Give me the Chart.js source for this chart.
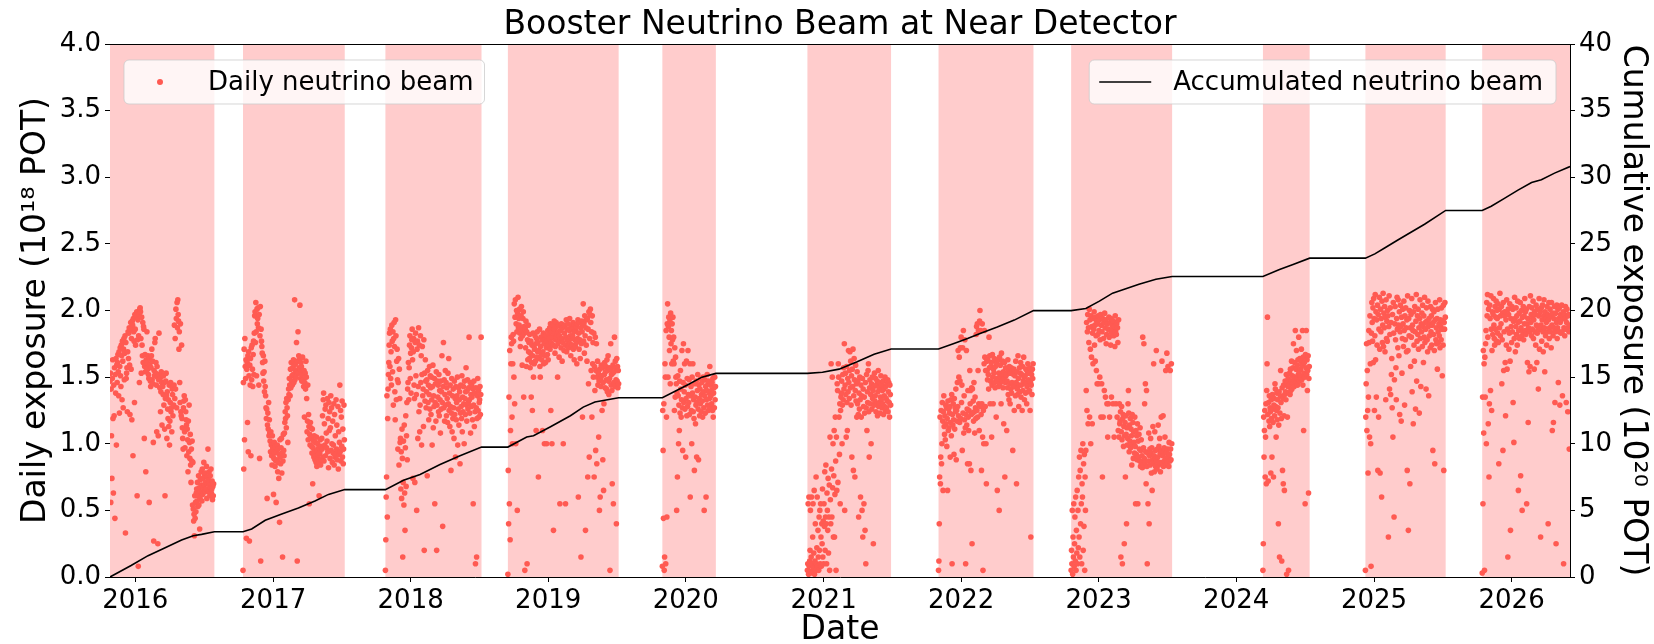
<!DOCTYPE html>
<html>
<head>
<meta charset="utf-8">
<script src="https://cdn.jsdelivr.net/npm/chart.js"></script>
<style>html,body{margin:0;background:#fff}canvas{display:block}</style>
</head>
<body>
<canvas id="bnb" width="1654" height="644"></canvas>
<script>
// beam-on periods, each shaded
const runStart = ['2015-10-26','2016-10-13','2017-10-26','2018-09-16','2019-10-31','2020-11-19','2021-11-02','2022-10-20','2024-03-12','2024-12-09','2025-10-15'];
const runEnd   = ['2016-07-29','2017-07-10','2018-07-08','2019-07-07','2020-03-21','2021-06-29','2022-07-12','2023-07-15','2024-07-14','2025-07-10','2026-06-05'];

// daily POT (1e18), one value per day starting at runStart
const pot2016 = [
1.47,1.53,0.56,1.41,1.06,0.74,1.49,1.63,1.19,0.63, 1.44,1.21,1.57,0.44,1.52,1.38,1.64,0.99,1.59,1.46,
1.61,1.67,1.54,1.36,1.69,1.23,1.58,1.72,1.51,1.43, 1.74,1.66,1.33,1.77,1.62,1.27,1.71,1.79,1.48,1.68,
1.81,0.33,1.76,1.49,1.53,1.57,1.24,1.69,1.84,1.64, 1.83,1.87,1.59,1.22,1.86,1.91,1.56,1.79,1.18,1.92,
1.89,0.91,1.94,1.84,1.77,1.31,1.97,1.86,1.74,1.95, 1.96,1.99,0.61,1.78,1.93,0.08,1.81,1.97,1.46,2.01,
2.02,1.99,1.79,1.53,1.95,1.74,1.66,1.91,1.61,1.88, 1.86,1.04,1.58,1.67,1.54,0.79,1.63,1.57,1.84,1.61,
1.56,1.66,1.52,1.49,0.56,1.64,1.59,1.47,1.43,1.57, 1.66,1.71,1.48,1.62,1.45,1.01,0.27,1.55,1.51,1.76,
1.79,1.53,1.61,1.44,1.09,1.58,1.5,0.25,1.06,1.48, 1.83,1.52,1.42,1.49,1.24,1.39,1.54,1.46,1.14,1.51,
1.43,1.37,1.51,1.29,1.46,1.11,0.61,1.34,1.47,1.53, 1.36,1.04,1.39,1.26,1.19,1.33,1.13,1.44,0.99,1.17,
1.31,1.46,1.24,1.27,1.09,1.41,1.37,1.21,1.43,1.29, 1.44,1.89,1.34,1.79,1.41,2.01,1.94,1.27,2.06,1.87,
2.08,1.97,1.92,1.71,1.84,1.46,1.31,1.9,1.24,1.21, 1.74,1.19,1.12,1.04,0.96,1.27,1.32,1.36,1.09,0.97,
1.33,1.24,1.18,1.14,0.91,1.11,1.03,0.79,1.17,0.94, 1.29,1.01,0.89,1.07,0.84,0.71,0.96,0.87,1.02,0.54,
0.86,0.51,0.42,0.47,0.31,0.61,0.44,0.56,0.49,0.63, 0.66,0.57,0.71,0.53,0.61,0.76,0.54,0.67,0.36,0.59,
0.73,0.64,0.79,0.69,0.57,0.81,0.62,0.74,0.67,0.86, 0.69,0.77,0.64,0.78,0.71,0.66,0.83,0.59,0.75,0.7,
0.96,0.73,0.64,0.79,0.69,0.61,0.76,0.67,0.81,0.63, 0.66,0.72,0.58,0.68,0.61,0.7];
const pot2017 = [
0.05,1.46,0.81,1.71,1.03,1.79,1.58,1.49,1.63,0.29, 1.56,1.61,1.16,1.66,0.94,1.69,1.51,0.27,1.59,1.44,
1.64,0.91,1.72,1.48,1.74,1.56,1.43,1.67,1.77,1.52, 1.83,1.96,1.99,1.76,2.06,1.84,1.51,2.01,1.9,1.94,
2.02,1.87,1.44,1.97,0.89,1.81,2.03,0.12,1.86,1.77, 1.73,1.68,1.61,1.53,1.66,1.47,1.54,1.39,1.62,1.43,
1.36,1.27,1.19,1.26,0.59,1.14,1.23,1.11,1.31,1.06, 1.18,1.08,1.02,0.94,1.09,0.99,0.91,0.84,1.06,0.97,
0.96,0.62,0.89,1.01,0.93,0.83,0.98,0.87,0.56,0.94, 0.88,0.99,0.79,0.96,0.86,0.74,0.92,0.41,1.03,0.9,
0.85,0.97,1.04,0.78,0.93,0.15,0.87,1.07,0.95,0.91, 1.08,1.16,1.24,1.19,1.31,1.12,1.34,1.27,1.21,1.01,
1.33,1.41,1.37,1.49,1.44,1.36,1.56,1.42,1.61,1.47, 1.51,1.44,1.57,1.52,1.63,1.46,1.59,2.08,1.48,1.55,
1.6,1.5,1.76,1.54,0.12,1.62,1.84,1.53,1.66,1.57, 1.63,2.04,1.56,1.49,1.61,1.58,1.47,1.52,1.65,1.55,
1.48,1.43,1.55,1.2,1.46,1.53,1.41,1.62,1.5,1.34, 1.09,1.17,1.44,1.03,1.22,1.13,0.55,1.07,0.99,1.16,
1.12,1.04,0.98,0.93,1.11,0.7,0.97,1.02,0.9,1.06, 0.94,0.88,1.01,0.91,0.86,1.05,0.83,0.95,1.0,0.89,
0.92,0.97,0.61,0.86,0.93,1.03,0.84,0.98,0.88,1.04, 0.96,1.21,0.9,1.33,1.38,0.87,1.15,0.99,1.26,0.91,
1.29,1.08,0.97,1.02,1.34,0.94,1.19,0.82,1.31,1.1, 1.24,0.89,1.12,1.36,0.95,1.27,1.0,0.86,1.17,0.93,
0.99,1.3,0.84,1.22,0.9,1.06,0.92,1.33,0.96,1.14, 0.88,0.95,1.28,0.81,1.09,0.92,1.01,1.44,0.94,1.25,
0.87,1.2,0.98,1.32,0.9,1.11,0.85,0.96,1.29,1.03];
const pot2018 = [
0.05,0.28,0.6,0.75,1.36,0.45,1.19,1.41,1.52,1.61, 1.74,1.83,1.58,1.86,1.49,1.69,1.44,1.89,1.77,1.54,
1.84,1.29,1.79,1.91,1.73,1.39,1.18,1.93,1.81,1.33, 1.62,1.71,1.48,0.96,1.46,1.64,0.84,1.56,1.34,1.01,
1.04,0.66,0.94,0.59,1.11,0.89,0.15,0.71,1.02,0.54, 1.14,0.63,0.35,0.97,1.21,0.68,1.06,1.31,0.88,1.41,
1.46,1.61,1.33,1.57,1.74,1.81,1.49,1.68,1.38,1.72, 1.78,1.86,1.63,0.74,1.69,1.79,1.44,1.34,0.71,1.76,
1.83,1.51,1.37,0.5,1.71,1.77,1.04,1.43,1.87,1.24, 1.74,1.09,1.29,1.81,1.46,1.66,0.99,1.52,1.73,1.36,
1.41,1.13,1.78,0.2,1.53,1.32,1.63,1.47,1.27,1.39, 1.48,0.76,1.55,1.31,1.44,1.18,1.37,1.58,1.26,1.51,
1.42,1.22,1.5,1.33,0.99,1.43,1.59,1.12,1.36,1.28, 1.49,0.55,1.31,1.45,1.17,1.54,0.2,1.29,1.47,1.35,
1.44,1.24,1.52,1.21,1.4,1.33,1.08,1.47,1.26,1.39, 1.66,1.31,0.38,1.43,1.76,1.27,1.48,1.17,1.37,1.55,
1.29,1.46,1.21,1.42,1.34,1.16,1.53,1.3,1.64,1.25, 1.38,1.13,1.44,1.28,0.8,1.23,1.49,1.09,1.36,1.19,
1.41,1.27,1.04,1.47,1.22,1.34,0.9,1.43,1.18,1.31, 1.36,1.5,0.99,1.26,1.42,1.14,1.33,1.39,0.85,1.23,
1.44,1.28,1.19,1.51,1.09,1.35,1.24,1.43,1.3,1.0, 1.47,1.34,1.22,1.39,1.57,1.29,1.17,1.4,1.48,1.26,
1.31,1.42,1.8,1.33,1.23,1.46,1.08,1.37,1.28,1.44, 1.35,1.18,1.41,0.55,1.29,1.47,1.13,1.38,1.24,0.1,
1.42,1.27,0.15,1.19,1.36,1.49,1.25,1.4,1.2,1.31, 1.33,1.43,1.22,1.37,1.8];
const pot2019 = [
0.02,0.8,0.4,1.35,0.55,1.7,0.28,1.1,1.6,1.8, 1.75,1.2,1.0,1.6,1.82,1.77,1.5,2.05,1.3,1.95,
2.08,1.0,1.9,2.0,1.84,0.5,1.98,2.1,1.87,1.94, 1.89,2.01,1.83,1.73,1.79,1.96,2.03,1.86,1.59,1.81,
1.94,1.99,1.35,1.88,1.83,0.05,1.86,1.72,1.92,1.58, 1.84,0.1,1.78,1.63,1.89,1.69,1.76,1.64,1.82,1.57,
1.68,1.77,1.35,1.61,1.74,1.25,1.66,1.83,1.5,1.73, 1.6,1.71,1.81,1.62,1.75,1.1,1.79,1.65,1.84,1.69,
1.76,0.75,1.7,1.64,1.86,1.58,1.5,1.73,1.8,1.67, 1.63,1.78,1.1,1.69,1.83,1.6,1.75,1.0,1.79,1.66,
1.61,1.81,1.72,1.0,1.77,1.67,1.85,1.63,1.74,1.82, 1.79,1.87,1.71,1.9,1.25,1.76,1.84,1.0,1.8,1.89,
1.74,0.35,1.83,1.92,1.86,1.68,1.73,1.78,1.91,1.8, 1.88,1.82,1.5,1.75,1.84,1.89,1.65,1.81,0.55,1.77,
1.85,1.72,1.9,1.79,1.62,1.87,1.76,1.0,1.88,1.7, 1.83,1.89,1.74,0.55,1.8,1.93,1.69,1.78,1.86,1.73,
1.9,1.77,1.72,1.85,1.94,1.75,1.81,1.66,1.88,1.79, 1.74,1.86,1.81,1.91,1.71,1.84,1.63,1.89,1.78,1.73,
1.85,1.88,1.76,1.6,1.9,1.79,1.93,0.6,1.83,1.71, 1.91,1.78,1.64,1.87,0.15,1.75,1.92,1.84,1.2,1.89,
2.05,1.77,1.9,1.68,1.96,1.81,0.35,1.87,1.74,1.93, 1.62,1.94,0.75,1.86,1.45,1.99,0.9,1.79,1.97,2.01,
1.91,1.55,1.84,1.2,1.96,1.6,1.76,1.5,1.83,0.75, 1.58,1.4,1.8,0.95,1.55,1.75,0.85,1.5,1.62,1.44,
1.53,1.05,1.47,0.5,1.56,0.6,1.49,1.43,1.59,1.51, 1.25,1.57,0.88,1.46,0.65,1.3,1.52,1.61,1.42,1.54,
1.58,1.48,1.41,1.63,1.39,1.55,1.66,1.47,1.37,1.57, 1.49,0.05,1.56,1.75,1.44,1.52,1.4,0.7,1.53,1.59,
0.55,1.46,1.54,1.8,1.43,1.62,1.57,1.48,0.4,1.64, 1.47,1.58,1.42,1.55,1.45];
const pot2020 = [
0.08,1.25,0.95,0.44,1.3,0.05,0.15,1.6,1.5,0.1, 1.85,1.2,0.45,1.9,2.05,1.5,1.88,1.95,1.8,1.7,
1.92,1.45,1.98,1.75,1.85,1.6,1.9,1.78,1.95,1.62, 1.8,1.6,1.25,1.72,1.35,1.65,1.5,1.45,0.5,1.38,
0.75,1.51,1.36,1.0,1.29,1.1,1.47,1.23,1.55,1.41, 1.2,1.33,1.7,1.27,0.95,1.46,1.75,1.31,1.39,1.6,
1.26,1.44,0.9,1.34,1.62,1.21,1.49,1.28,1.7,1.37, 1.31,1.48,1.22,1.6,0.6,1.36,1.43,1.25,1.0,1.5,
1.38,1.6,1.24,1.33,1.19,0.8,1.45,1.35,1.15,1.29, 1.47,0.9,1.31,1.4,1.52,1.26,0.88,1.44,1.34,1.21,
1.41,1.3,1.49,1.24,1.37,1.46,1.32,1.2,1.5,1.39, 1.27,0.5,1.36,1.48,1.23,1.43,0.6,1.33,1.4,1.52,
1.29,1.45,1.25,1.47,1.38,1.34,1.58,1.28,1.44,1.36, 1.4,1.3,1.46,1.25,1.49,1.2,1.38,1.42,1.27,1.5,1.33,1.43];
const pot2021 = [
0.05,0.1,0.55,0.02,0.6,0.08,0.12,0.2,0.5,0.04, 0.15,0.6,0.03,0.1,0.3,0.55,0.07,0.18,0.65,0.02,
0.12,0.4,0.05,0.75,0.1,0.22,0.6,0.08,0.35,0.15, 0.05,0.45,0.2,0.5,0.1,0.55,0.3,0.08,0.4,0.25,
0.66,0.15,0.42,0.1,0.55,0.38,0.79,0.2,0.45,0.84, 0.4,0.1,0.63,0.5,0.35,0.74,0.18,0.45,0.69,0.05,
1.05,0.58,0.4,1.6,0.81,0.45,1.5,0.67,1.0,0.3, 0.76,1.1,0.3,0.62,1.2,0.87,0.05,1.05,0.65,1.45,
1.4,0.71,1.6,1.5,1.2,0.92,1.3,0.55,1.25,1.35, 1.38,1.47,1.0,1.29,1.52,1.33,1.57,1.41,1.75,0.5,
1.44,1.53,1.37,1.05,1.58,1.31,1.1,1.49,1.39,1.7, 1.46,1.34,1.55,1.69,1.42,1.62,1.29,1.51,0.9,1.56,
1.43,1.71,0.8,1.36,1.64,1.48,0.75,1.4,1.59,1.32, 1.45,1.2,1.54,1.3,1.47,1.22,0.45,1.38,1.26,1.5,
1.33,0.6,1.44,1.2,1.36,0.5,1.49,0.3,1.41,1.28, 0.55,1.35,1.23,0.35,1.46,0.1,1.27,1.52,1.1,1.39,
1.31,1.55,1.6,1.24,0.9,1.42,1.48,1.3,1.37,1.0, 1.45,1.26,1.5,1.34,1.4,0.25,1.43,1.29,1.53,1.32,
1.36,1.49,1.24,1.44,1.3,1.47,1.21,1.39,1.55,1.28, 1.42,1.31,1.46,1.23,1.35,1.51,1.33,1.44,1.27,1.4,
1.3,1.47,1.22,1.41,1.36,1.28,1.5,1.25,1.43,1.34, 1.27,1.45,1.32,1.48,1.24,1.39,1.46,1.31,1.2,1.44,1.37,1.29];
const pot2022 = [
0.05,0.12,0.4,0.75,1.2,0.7,0.9,1.25,0.85,1.0, 1.31,1.17,0.65,1.24,1.36,1.13,1.07,1.21,1.03,1.29,
1.15,1.27,0.98,1.19,0.65,1.32,1.1,1.26,1.12,1.23, 1.28,0.9,1.16,1.33,1.06,1.37,0.1,1.22,1.14,1.3,
1.18,0.92,1.34,1.11,1.27,1.24,1.41,0.88,1.25,1.17, 1.46,1.28,1.7,1.21,1.5,1.65,1.16,1.47,1.72,1.19,
1.8,1.31,1.44,0.95,1.72,1.23,1.85,1.08,1.36,1.18, 1.78,1.12,0.1,1.22,1.7,1.14,1.26,0.85,1.4,1.2,
1.1,1.25,0.85,1.55,1.3,1.4,0.8,1.22,1.42,0.25, 1.41,1.23,1.32,1.17,1.46,1.24,1.08,1.35,1.27,1.19,
1.82,1.88,1.25,1.9,1.2,1.55,1.85,1.3,1.1,1.92, 2.0,1.28,1.85,1.22,0.8,1.3,1.9,1.05,0.05,1.25,
1.0,1.6,1.85,1.65,1.28,1.55,1.0,0.7,1.62,1.55, 1.48,1.63,1.52,1.41,1.8,1.57,1.66,1.3,1.47,1.58,
1.61,1.05,1.44,1.67,1.5,1.3,1.56,1.53,1.64,1.46, 1.42,1.58,1.62,1.2,1.49,1.6,0.65,1.47,1.63,1.43,
1.53,0.5,1.65,1.45,1.59,1.5,1.3,1.68,1.52,1.47, 1.62,1.42,1.54,1.15,1.49,1.61,0.75,1.46,1.57,1.51,
1.52,1.1,1.47,1.42,1.63,1.37,1.55,1.33,1.58,1.45, 1.3,1.53,1.41,1.57,1.38,1.46,1.55,0.95,1.43,1.52,
1.56,1.25,1.43,1.51,1.36,1.62,1.46,0.7,1.54,1.41, 1.37,1.66,1.49,1.28,1.44,1.57,1.39,1.53,1.61,1.35,
1.44,1.52,1.25,1.58,1.4,1.47,1.65,1.5,1.33,1.46, 1.51,1.38,1.56,1.45,1.3,1.43,1.54,1.6,1.39,1.48,
1.53,1.4,1.57,1.25,1.46,0.3,1.44,1.52,1.37,1.56,1.49,1.6];
const pot2023 = [
0.05,0.2,0.1,0.5,0.02,0.3,0.15,0.55,0.08,0.25, 0.45,0.12,0.6,0.05,0.35,0.18,0.65,0.1,0.5,0.22,
0.75,0.3,0.9,0.15,0.8,0.4,0.95,0.55,0.1,0.7, 0.6,1.0,0.2,0.85,0.38,0.92,0.05,0.75,0.5,0.95,
1.4,1.91,1.25,1.84,1.97,1.15,1.87,1.76,2.01,1.2, 1.93,1.71,1.0,1.96,1.65,1.88,1.15,1.83,1.6,1.94,
1.86,1.99,1.74,1.89,1.62,1.95,1.81,1.55,1.92,1.45, 1.9,1.82,1.96,1.45,1.85,1.93,1.5,1.78,1.97,1.2,
1.89,1.45,1.84,0.75,1.94,1.2,1.79,1.91,1.4,1.98, 1.87,1.35,1.93,1.75,1.82,1.3,1.9,1.05,1.86,1.3,
1.95,1.8,1.2,1.91,1.85,1.74,1.94,1.35,1.83,1.89, 1.86,1.3,1.92,1.81,1.05,1.88,1.73,1.96,1.84,1.3,
1.82,1.9,1.2,1.87,1.76,1.1,1.93,1.05,1.3,1.15, 1.17,1.24,0.15,1.09,1.28,1.03,0.1,1.19,1.22,0.98,
1.13,0.25,1.06,1.16,0.75,1.21,1.07,0.4,1.12,0.99, 1.04,1.3,1.4,1.23,0.94,1.14,1.02,1.19,0.97,1.11,
1.06,0.84,1.22,0.99,1.16,0.89,1.09,1.01,0.93,1.2, 0.98,0.55,1.1,0.92,1.06,0.88,1.15,0.55,1.02,0.9,
1.07,0.96,0.87,1.12,0.83,0.95,1.03,0.86,0.91,0.82, 1.8,0.84,0.97,1.75,0.89,1.3,0.86,1.45,0.94,0.7,
1.4,0.83,0.1,0.93,0.55,0.87,1.08,0.4,0.91,0.96, 0.84,1.04,0.93,0.78,0.97,0.65,0.88,1.13,0.86,1.6,
0.91,0.79,1.09,0.95,0.83,0.89,1.7,0.87,0.81,0.96, 0.9,1.14,0.84,0.98,0.86,1.04,0.93,0.79,0.92,1.2,
0.95,1.62,0.86,0.91,1.21,0.83,0.94,0.97,0.87,1.05, 0.89,1.55,0.84,0.93,1.68,0.86,0.96,1.58,0.9,0.83,
1.01,0.92,0.87,1.55,0.96,0.88,1.6,1.0];
const pot2024 = [
0.05,0.25,1.2,0.9,1.1,1.25,0.75,1.05,1.3,0.7, 1.4,1.6,1.95,1.22,0.72,1.31,1.17,1.36,1.13,1.27,
1.24,0.78,1.33,1.19,0.9,1.37,1.26,1.16,0.75,1.29, 1.34,1.21,1.45,1.41,1.28,1.05,1.25,1.38,1.18,1.33,
1.27,0.4,1.14,1.39,0.15,1.23,1.36,1.55,1.31,1.19, 0.12,1.42,0.8,1.34,0.7,1.44,1.21,0.65,1.37,1.47,
1.39,1.33,1.52,0.02,1.46,1.2,1.43,1.49,0.05,1.38, 1.44,1.53,1.37,1.56,1.4,1.47,1.62,1.41,1.51,1.45,
1.57,1.75,1.48,1.43,1.61,1.5,1.85,1.46,1.56,1.7, 1.49,1.59,1.44,1.63,1.52,1.8,1.54,1.47,1.64,1.51,
1.56,1.62,1.71,1.48,1.59,1.85,1.44,1.65,1.1,1.53, 1.61,1.5,0.55,1.67,1.57,1.85,1.52,1.63,1.4,1.55,1.66,0.63,1.49,1.58];
const pot2025 = [
0.05,1.2,1.45,1.75,1.1,1.55,1.25,0.78,1.35,1.85, 1.76,1.05,1.96,1.6,1.0,0.08,1.83,2.06,1.91,1.77,
2.02,1.61,2.09,1.94,1.25,1.81,2.12,1.63,1.99,1.35, 1.93,1.74,2.04,0.8,1.97,1.2,1.86,2.1,1.71,0.78,
2.01,1.84,1.94,0.6,2.07,1.76,1.89,2.13,1.73,1.98, 1.87,2.03,1.69,1.95,1.33,2.08,1.79,1.92,1.77,2.0,
1.96,0.3,1.88,2.11,1.41,1.82,2.02,1.37,1.91,1.52, 1.64,1.27,1.97,1.05,2.06,1.83,0.45,1.48,1.9,2.03,
1.78,1.57,1.33,1.94,2.1,1.86,1.72,2.08,1.89,1.66, 1.99,1.22,1.84,2.04,1.88,1.17,1.95,1.53,1.79,2.01,
1.9,1.73,2.07,1.85,1.29,1.96,1.78,2.02,1.87,1.69, 1.93,0.8,2.11,1.7,0.35,1.94,1.81,2.0,0.7,1.87,
1.58,1.97,1.8,2.09,1.39,1.89,1.85,1.15,1.99,1.74, 1.62,2.03,1.84,1.26,1.92,2.12,1.47,1.77,1.96,1.82,
2.01,1.71,1.87,1.23,1.94,2.08,1.79,1.43,1.9,1.84, 1.98,1.73,2.04,1.88,1.61,1.96,1.8,2.1,1.76,1.91,
1.86,1.41,2.02,1.92,1.78,1.69,2.07,1.88,1.36,1.94, 1.81,1.9,1.72,2.03,1.84,1.96,1.74,1.89,2.01,0.95,
1.91,1.82,1.99,1.7,0.85,1.93,2.06,1.78,1.87,1.75, 1.94,1.56,2.01,1.84,1.76,1.9,1.81,2.08,1.72,1.93,
1.88,1.78,2.02,1.86,1.51,1.92,1.74,2.04,0.8,1.91,1.86,2.06,1.95];
const pot2026 = [
0.03,1.35,0.55,1.7,1.08,1.6,0.05,1.65,1.35,1.75, 1.85,1.0,2.06,1.96,2.12,1.8,1.15,2.01,0.75,1.3,
2.04,1.94,1.4,2.11,1.86,1.25,1.7,1.99,1.82,1.97, 2.09,1.89,1.79,1.74,2.03,1.86,1.95,2.07,1.77,2.0,
1.94,1.83,2.05,1.76,0.85,2.01,1.87,2.13,1.81,1.96, 1.9,2.03,1.45,1.78,1.98,0.95,2.06,1.55,1.84,1.96,
1.99,1.61,1.21,1.93,1.74,2.08,1.56,1.86,0.15,2.01, 1.97,1.71,1.83,2.05,1.62,0.35,1.94,1.88,1.76,2.03,
1.84,2.01,1.31,1.92,1.01,1.79,2.1,1.94,1.69,1.88, 2.02,1.82,1.96,1.74,2.07,1.91,0.65,1.85,1.98,1.79,
1.92,2.06,0.76,1.87,2.0,1.81,0.5,1.95,1.84,2.03, 1.78,1.96,1.9,2.09,1.85,1.99,1.82,2.01,0.55,1.9,
1.61,1.94,1.16,1.87,1.54,2.03,1.84,1.58,2.11,1.91, 1.97,1.81,2.02,1.86,1.94,2.07,1.79,1.93,1.56,1.99,
1.84,1.97,1.74,2.04,1.89,1.61,1.83,2.01,1.87,1.41, 1.96,2.09,1.71,1.86,1.99,0.3,1.89,2.02,1.77,1.93,
2.04,1.84,1.69,1.96,2.08,1.87,1.54,1.99,1.81,1.94, 1.91,1.74,2.03,1.84,1.97,0.4,1.93,2.06,1.79,1.87,
2.01,1.84,1.96,1.72,2.06,1.89,1.1,1.98,1.81,1.16, 1.94,1.87,2.03,1.31,1.84,1.98,0.25,1.91,2.04,1.79,
1.87,2.01,1.46,1.94,1.84,2.02,1.29,1.91,1.97,1.83, 1.93,2.04,1.84,1.36,1.96,1.99,0.1,1.87,1.97,1.81,
1.94,2.03,1.86,1.31,1.91,2.01,1.87,1.24,1.96,1.97,1.84,0.96,1.89];
const dailyRuns = [pot2016,pot2017,pot2018,pot2019,pot2020,pot2021,pot2022,pot2023,pot2024,pot2025,pot2026];

// accumulated POT (1e20)
const cumDates = ['2015-10-26','2015-12-21','2016-02-04','2016-03-19','2016-05-03','2016-06-03','2016-06-25','2016-07-29',
'2016-10-13','2016-11-05','2016-12-11','2017-01-24','2017-03-09','2017-04-22','2017-05-28','2017-07-10',
'2017-10-26','2017-12-13','2018-01-26','2018-03-20','2018-05-12','2018-07-08',
'2018-09-16','2018-11-05','2018-11-23','2019-01-06','2019-03-01','2019-04-04','2019-05-05','2019-07-07',
'2019-10-31','2020-01-08','2020-02-13','2020-03-21',
'2020-11-19','2020-12-29','2021-02-11','2021-03-31','2021-05-15','2021-06-29',
'2021-11-02','2021-12-13','2022-01-18','2022-02-22','2022-04-07','2022-05-22','2022-07-12',
'2022-10-20','2022-11-28','2023-01-03','2023-02-07','2023-03-14','2023-04-18','2023-06-02','2023-07-15',
'2024-03-12','2024-04-25','2024-05-31','2024-07-14',
'2024-12-09','2025-01-03','2025-01-29','2025-03-05','2025-04-10','2025-05-15','2025-06-19','2025-07-10',
'2025-10-15','2025-11-08','2025-12-14','2026-01-18','2026-02-23','2026-03-21','2026-04-25','2026-06-05'];
const cumPOT = [0,0.86,1.6,2.17,2.77,3.1,3.2,3.4,
3.4,3.6,4.26,4.73,5.17,5.7,6.2,6.56,
6.56,7.26,7.7,8.44,9.1,9.75,
9.75,10.5,10.6,11.26,12.1,12.75,13.14,13.45,
13.45,14.45,15.0,15.28,
15.28,15.36,15.6,16.15,16.72,17.11,
17.11,17.53,17.9,18.29,18.76,19.28,19.99,
19.99,20.15,20.7,21.3,21.63,21.97,22.34,22.55,
22.55,23.07,23.46,23.93,
23.93,24.25,24.69,25.29,25.89,26.47,27.12,27.51,
27.51,27.82,28.43,29.03,29.6,29.81,30.31,30.8];

const tickYears = [2016,2017,2018,2019,2020,2021,2022,2023,2024,2025,2026];

const FONT = 'DejaVu Sans';
const DOT = '#ff5a52';
const day = s => Date.parse(s + 'T00:00:00Z') / 86400000;

const dailyPts = [];
dailyRuns.forEach((vals, r) => {
  const d0 = day(runStart[r]);
  vals.forEach((v, i) => dailyPts.push({x: d0 + i, y: v}));
});
const cumPts = cumDates.map((d, i) => ({x: day(d), y: cumPOT[i]}));

// pink spans behind the data, plus top spine
const runSpans = {
  id: 'runSpans',
  beforeDatasetsDraw(chart) {
    const {ctx, chartArea: a, scales: {x}} = chart;
    ctx.save();
    ctx.fillStyle = '#ffcccc';
    runStart.forEach((s, i) => {
      const x0 = Math.max(a.left, x.getPixelForValue(day(s)));
      const x1 = Math.min(a.right, x.getPixelForValue(day(runEnd[i])));
      ctx.fillRect(x0, a.top, x1 - x0, a.bottom - a.top);
    });
    ctx.restore();
  },
  afterDatasetsDraw(chart) {
    const {ctx, chartArea: a} = chart;
    ctx.save();
    ctx.strokeStyle = '#000'; ctx.lineWidth = 1;
    ctx.beginPath(); ctx.moveTo(a.left, a.top + 0.5); ctx.lineTo(a.right, a.top + 0.5); ctx.stroke();
    ctx.restore();
  }
};

// two legend boxes, one per axis
function box(ctx, x, y, w, h) {
  ctx.beginPath(); ctx.roundRect(x, y, w, h, 5);
  ctx.fillStyle = 'rgba(255,255,255,0.8)'; ctx.fill();
  ctx.strokeStyle = 'rgba(204,204,204,0.8)'; ctx.lineWidth = 1; ctx.stroke();
}
const twinLegends = {
  id: 'twinLegends',
  afterDraw(chart) {
    const {ctx, chartArea: a} = chart;
    const ds = chart.data.datasets;
    const h = 44, pad = 14;
    ctx.save();
    ctx.font = '26px "' + FONT + '"';
    ctx.textBaseline = 'middle';
    // daily
    let t = ds[1].label, w = ctx.measureText(t).width + 95, x = a.left + pad, y = a.top + pad + 2;
    box(ctx, x, y, w, h);
    ctx.fillStyle = DOT; ctx.beginPath(); ctx.arc(x + 36, y + h / 2, 3, 0, Math.PI * 2); ctx.fill();
    ctx.fillStyle = '#000'; ctx.fillText(t, x + 84, y + h / 2 + 1);
    // accumulated
    t = ds[0].label; w = ctx.measureText(t).width + 97; x = a.right - pad - w;
    box(ctx, x, y, w, h);
    ctx.strokeStyle = '#000'; ctx.lineWidth = 1.6;
    ctx.beginPath(); ctx.moveTo(x + 10, y + h / 2); ctx.lineTo(x + 62, y + h / 2); ctx.stroke();
    ctx.fillStyle = '#000'; ctx.fillText(t, x + 84, y + h / 2 + 1);
    ctx.restore();
  }
};

const tickFont = {family: FONT, size: 26};
const titleFont = {family: FONT, size: 33, lineHeight: 1.2};
const spine = {display: true, color: '#000', width: 1};
const tickGrid = {display: true, drawOnChartArea: false, drawTicks: true, tickLength: 5, color: '#000'};

new Chart(document.getElementById('bnb'), {
  type: 'scatter',
  data: {
    datasets: [
      {type: 'line', label: 'Accumulated neutrino beam', data: cumPts, yAxisID: 'y2',
       borderColor: '#000', borderWidth: 1.6, pointRadius: 0, tension: 0, order: 0},
      {label: 'Daily neutrino beam', data: dailyPts, yAxisID: 'y',
       backgroundColor: DOT, borderWidth: 0, pointRadius: 2.8, pointHoverRadius: 2.8, order: 1}
    ]
  },
  options: {
    responsive: false, animation: false, events: [],
    layout: {padding: 0},
    plugins: {
      legend: {display: false}, tooltip: {enabled: false},
      title: {display: true, text: 'Booster Neutrino Beam at Near Detector', color: '#000',
              font: {family: FONT, size: 33, weight: 'normal', lineHeight: 1.1},
              padding: {top: 7, bottom: 0.7}, fullSize: false}
    },
    scales: {
      x: {
        type: 'linear', min: day(runStart[0]), max: day(runEnd[runEnd.length - 1]),
        afterBuildTicks: s => { s.ticks = tickYears.map(y => ({value: day(y + '-01-01')})); },
        afterFit: s => { s.height = 67; },
        ticks: {font: tickFont, color: '#000', padding: 4, autoSkip: false, maxRotation: 0,
                callback: v => String(new Date(v * 86400000).getUTCFullYear())},
        grid: tickGrid, border: spine,
        title: {display: true, text: 'Date', color: '#000',
                font: {family: FONT, size: 33, lineHeight: 0.8}, padding: 0}
      },
      y: {
        position: 'left', min: 0, max: 4,
        afterFit: s => { s.width = 110; },
        ticks: {stepSize: 0.5, font: tickFont, color: '#000', padding: 4, callback: v => v.toFixed(1)},
        grid: tickGrid, border: spine,
        title: {display: true, text: 'Daily exposure (10¹⁸ POT)', color: '#000', font: titleFont,
                padding: {top: 17, bottom: 0}}
      },
      y2: {
        position: 'right', min: 0, max: 40,
        afterFit: s => { s.width = 84; },
        ticks: {stepSize: 5, font: tickFont, color: '#000', padding: 4},
        grid: tickGrid, border: spine,
        title: {display: true, text: 'Cumulative exposure (10²⁰ POT)', color: '#000', font: titleFont,
                padding: {top: 2, bottom: 0}}
      }
    }
  },
  plugins: [runSpans, twinLegends]
});
</script>
</body>
</html>
